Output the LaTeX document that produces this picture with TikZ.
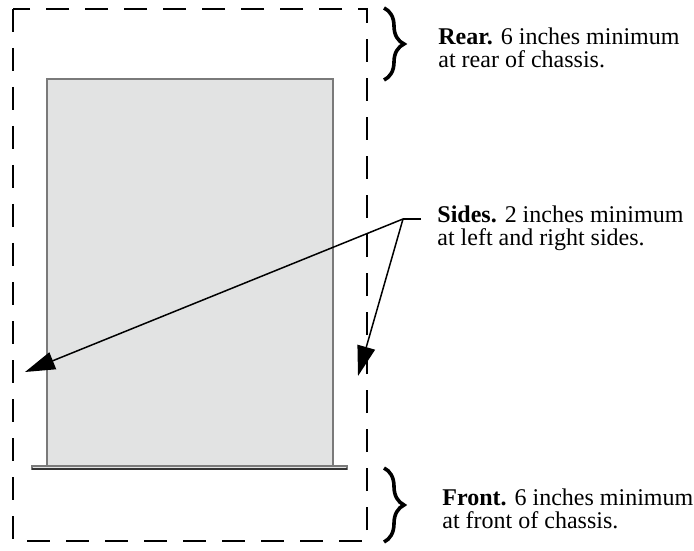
\documentclass[tikz,border=0pt]{standalone}
\usepackage{fontspec}
\setmainfont{Liberation Serif}
\usetikzlibrary{arrows.meta,positioning,decorations.pathreplacing}
\definecolor{chassisfill}{HTML}{E2E3E3}
\definecolor{chassisline}{HTML}{7A7A7A}

\begin{document}
\begin{tikzpicture}[
x=0.5pt,
y=-0.5pt,
chassis/.style={
  draw=chassisline,
  fill=chassisfill,
  line width=0.6pt
  },
keepout/.style={
  draw,
  line width=0.8pt,
  dash pattern=on 11.5pt off 8pt
  },
clearance/.style={
  decorate,
  decoration={brace,amplitude=10pt},
  line width=1.8pt
  },
note/.style={
  anchor=base west,
  align=left,
  inner sep=0pt,
  font=\fontsize{12}{11.5}\selectfont
  },
leader/.style={
  line width=0.75pt
  },
>={Triangle[length=15pt,width=9pt]}
]
\useasboundingbox (0,0) rectangle (694,550);
\draw[keepout] (13,9) rectangle (367,541);
\filldraw[chassis] (47,79) rectangle (333,469);
\filldraw[chassis] (32,466) rectangle (347,469);
\draw[line width=0.6pt, black!80] (32,469) -- (347,469);
\draw[clearance] (384,8) -- (384,80);
\draw[clearance] (384,468) -- (384,542);
\node[note] (rear) at (438,68) {\textbf{Rear.} 6 inches minimum\\at rear of chassis.};
\node[note] (sides) at (437,246) {\textbf{Sides.} 2 inches minimum\\at left and right sides.};
\node[note] (front) at (442,528) {\textbf{Front.} 6 inches minimum\\at front of chassis.};
\coordinate (fork) at (403,219);
\coordinate[right=9pt of fork] (knee);
\coordinate (lefttip) at (25,372);
\coordinate (righttip) at (358,376);
\draw[leader] (knee) -- (fork);
\draw[leader,->] (fork) -- (lefttip);
\draw[leader,->] (fork) -- (righttip);
\end{tikzpicture}
\end{document}
